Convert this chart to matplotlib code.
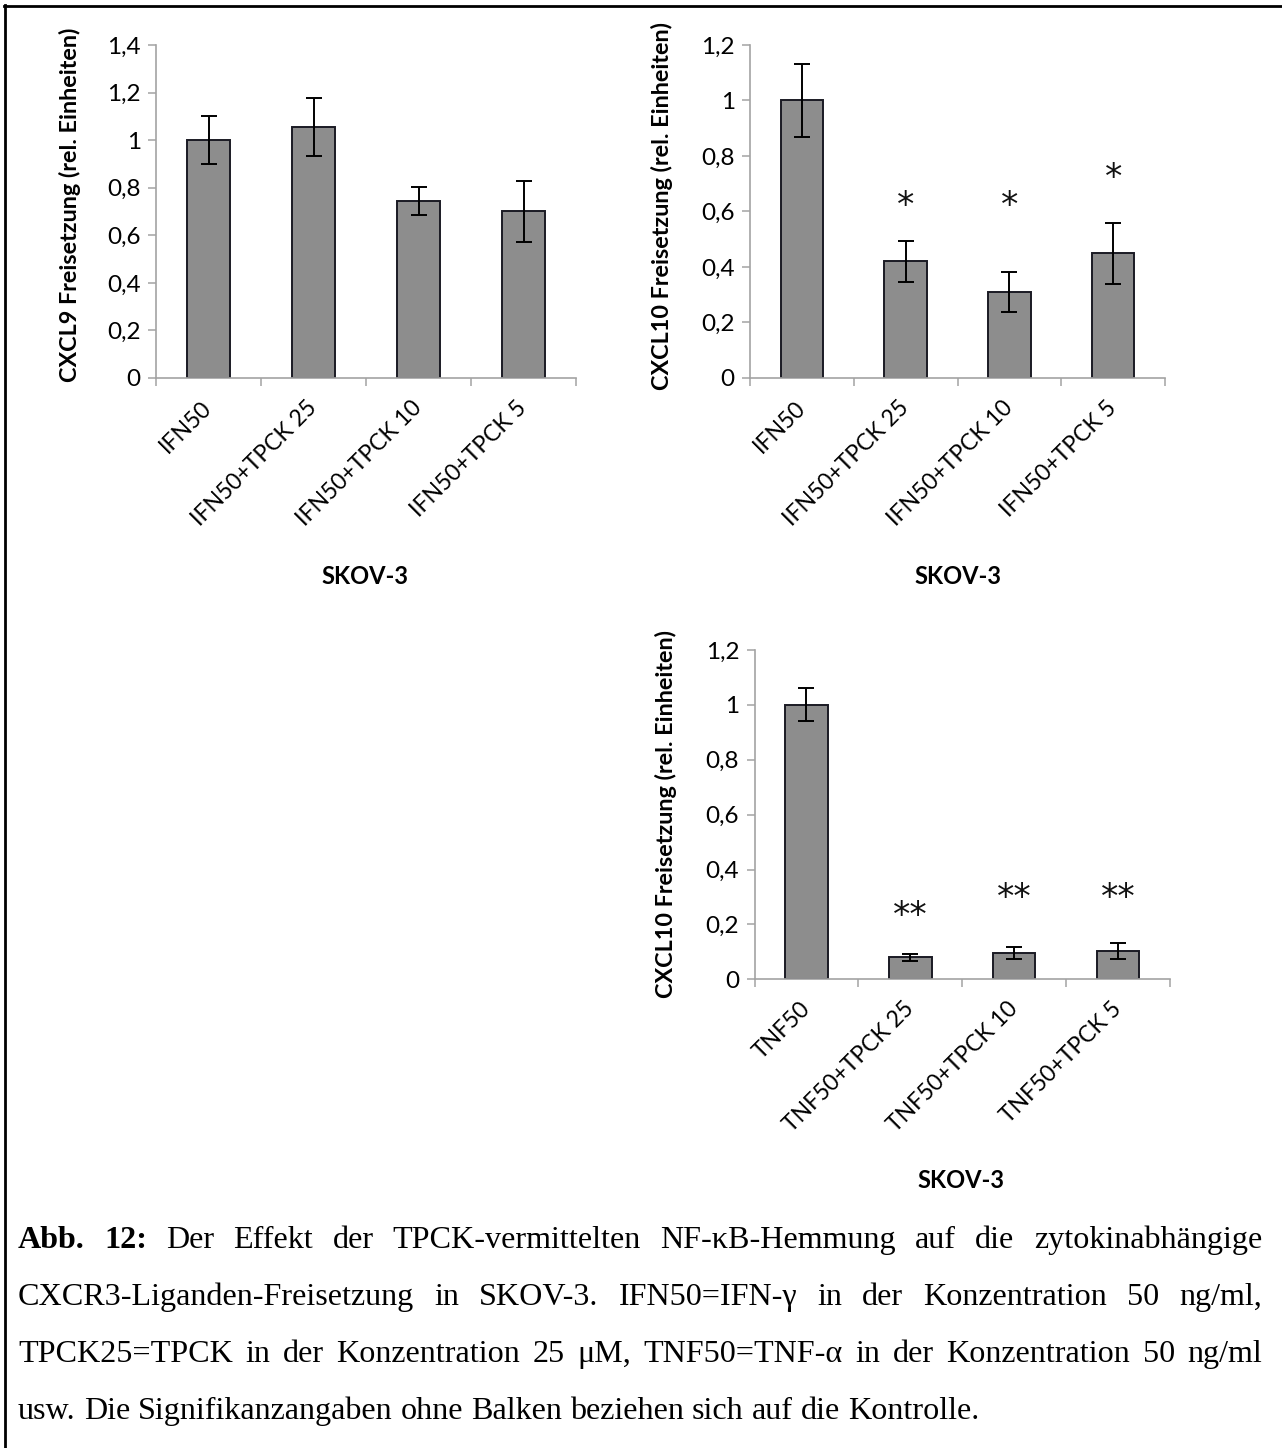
import numpy as np
import matplotlib.pyplot as plt
from matplotlib.lines import Line2D
from matplotlib.ticker import FuncFormatter, FixedLocator
from matplotlib.transforms import ScaledTranslation

W, H = 1282, 1448
DPI = 100

# === Daten ===
labels_ifn = ["IFN50", "IFN50+TPCK 25", "IFN50+TPCK 10", "IFN50+TPCK 5"]
labels_tnf = ["TNF50", "TNF50+TPCK 25", "TNF50+TPCK 10", "TNF50+TPCK 5"]

cxcl9_ifn = [1.0, 1.055, 0.745, 0.70]
cxcl9_ifn_err = [0.10, 0.122, 0.06, 0.13]

cxcl10_ifn = [1.0, 0.42, 0.31, 0.45]
cxcl10_ifn_err = [0.132, 0.073, 0.072, 0.11]

cxcl10_tnf = [1.0, 0.081, 0.096, 0.104]
cxcl10_tnf_err = [0.06, 0.013, 0.022, 0.029]

sig_ifn = ["", "*", "*", "*"]
sig_tnf = ["", "**", "**", "**"]

caption_lines = [
    "Abb. 12: Der Effekt der TPCK-vermittelten NF-κB-Hemmung auf die zytokinabhängige",
    "CXCR3-Liganden-Freisetzung in SKOV-3. IFN50=IFN-γ in der Konzentration 50 ng/ml,",
    "TPCK25=TPCK in der Konzentration 25 μM, TNF50=TNF-α in der Konzentration 50 ng/ml",
    "usw. Die Signifikanzangaben ohne Balken beziehen sich auf die Kontrolle.",
]

# === Stil ===
SANS = ["Lato", "DejaVu Sans"]
SERIF = ["Liberation Serif", "DejaVu Serif"]
BAR = "#8d8d8d"
EDGE = "#1a1a24"
AXC = "#a3a3a3"

plt.rcParams["font.family"] = SANS

fig = plt.figure(figsize=(W / DPI, H / DPI), dpi=DPI)


def px_rect(x0, y_top, x1, y_bot):
    return [x0 / W, 1 - y_bot / H, (x1 - x0) / W, (y_bot - y_top) / H]


def comma_fmt(v, pos):
    return f"{v:g}".replace(".", ",")


def panel(rect, values, errors, labels, ymax, sig, sig_y):
    ax = fig.add_axes(rect)
    x = np.arange(len(values))
    ax.bar(x, values, width=0.41, color=BAR, edgecolor=EDGE, linewidth=1.4, zorder=2)
    ax.errorbar(x, values, yerr=errors, fmt="none", ecolor="black",
                elinewidth=1.4, capsize=5.5, capthick=1.4, zorder=3)
    for xi, s, sy in zip(x, sig, sig_y):
        if s:
            ax.text(xi, sy, s, ha="center", va="center", fontsize=25,
                    family=["DejaVu Sans"], color="#111111")
    ax.set_xlim(-0.5, len(values) - 0.5)
    ax.set_ylim(0, ymax)
    ax.yaxis.set_major_locator(FixedLocator(np.arange(0, ymax + 0.01, 0.2)))
    ax.yaxis.set_major_formatter(FuncFormatter(comma_fmt))
    ax.set_xticks(x)
    ax.set_xticklabels(labels, rotation=45, ha="right", va="center",
                       rotation_mode="anchor", fontsize=16.5)
    shift = ScaledTranslation(8 / DPI, 0, fig.dpi_scale_trans)
    for lab in ax.get_xticklabels():
        lab.set_transform(lab.get_transform() + shift)
    ax.set_xticks(np.arange(-0.5, len(values), 1.0), minor=True)
    ax.tick_params(axis="x", which="major", length=0, pad=19)
    ax.tick_params(axis="x", which="minor", length=6, width=1.1, color=AXC,
                   direction="out")
    ax.tick_params(axis="y", length=6, width=1.1, color=AXC, direction="out",
                   labelsize=17.5, pad=5)
    for sp in ("top", "right"):
        ax.spines[sp].set_visible(False)
    for sp in ("left", "bottom"):
        ax.spines[sp].set_color(AXC)
        ax.spines[sp].set_linewidth(1.2)
    ax.set_facecolor("none")
    return ax


panel(px_rect(156, 45, 576, 378), cxcl9_ifn, cxcl9_ifn_err, labels_ifn, 1.4,
      ["", "", "", ""], [0, 0, 0, 0])
panel(px_rect(750, 45, 1165, 378), cxcl10_ifn, cxcl10_ifn_err, labels_ifn, 1.2,
      sig_ifn, [0, 0.62, 0.62, 0.72])
panel(px_rect(754.5, 650, 1170, 979.3), cxcl10_tnf, cxcl10_tnf_err, labels_tnf, 1.2,
      sig_tnf, [0, 0.23, 0.295, 0.295])

# Achsentitel
ylab_kw = dict(rotation=90, ha="center", va="center", fontsize=16.8, fontweight="bold")
fig.text(70 / W, 1 - 205 / H, "CXCL9 Freisetzung (rel. Einheiten)", **ylab_kw)
fig.text(662 / W, 1 - 206 / H, "CXCL10 Freisetzung (rel. Einheiten)", **ylab_kw)
fig.text(666 / W, 1 - 814 / H, "CXCL10 Freisetzung (rel. Einheiten)", **ylab_kw)

xlab_kw = dict(ha="center", va="center", fontsize=17, fontweight="bold")
fig.text(365 / W, 1 - 577 / H, "SKOV-3", **xlab_kw)
fig.text(958 / W, 1 - 577 / H, "SKOV-3", **xlab_kw)
fig.text(961 / W, 1 - 1180 / H, "SKOV-3", **xlab_kw)

# Rahmen (links und oben)
fig.add_artist(Line2D([5 / W, 5 / W], [0, 1 - 5 / H], color="black", linewidth=2.0))
fig.add_artist(Line2D([4 / W, 1], [1 - 6 / H, 1 - 6 / H], color="black", linewidth=2.0))

# === Bildunterschrift (Blocksatz) ===
renderer = fig.canvas.get_renderer()


def text_width(s, size, weight="normal"):
    t = fig.text(0, 0, s, fontsize=size, family=SERIF, fontweight=weight)
    w = t.get_window_extent(renderer).width
    t.remove()
    return w


CAP_X0, CAP_X1 = 18, 1262
LAST_END = 945
bold_words = {"Abb.", "12:"}

# Kompromiss: volle Breite fuer Zeile 3, Ende der letzten Zeile bei ~945 px
size_full = 10 * (CAP_X1 - CAP_X0) / text_width(caption_lines[2], 10)
size_last = 10 * (LAST_END - CAP_X0) / text_width(caption_lines[3], 10)
cap_size = np.sqrt(size_full * size_last)
space_w = text_width("x x", cap_size) - 2 * text_width("x", cap_size)

baselines = [1248, 1305, 1362, 1419]
for i, (line, yb) in enumerate(zip(caption_lines, baselines)):
    words = line.split(" ")
    weights = ["bold" if (i == 0 and w in bold_words) else "normal" for w in words]
    widths = [text_width(w, cap_size, wt) for w, wt in zip(words, weights)]
    if i < 3:
        gap = (CAP_X1 - CAP_X0 - sum(widths)) / (len(words) - 1)
    else:
        gap = space_w
    xpos = CAP_X0
    for w, wt, ww in zip(words, weights, widths):
        fig.text(xpos / W, 1 - yb / H, w, fontsize=cap_size, family=SERIF,
                 fontweight=wt, ha="left", va="baseline")
        xpos += ww + gap

fig.savefig("out.png", dpi=DPI, facecolor="white")
